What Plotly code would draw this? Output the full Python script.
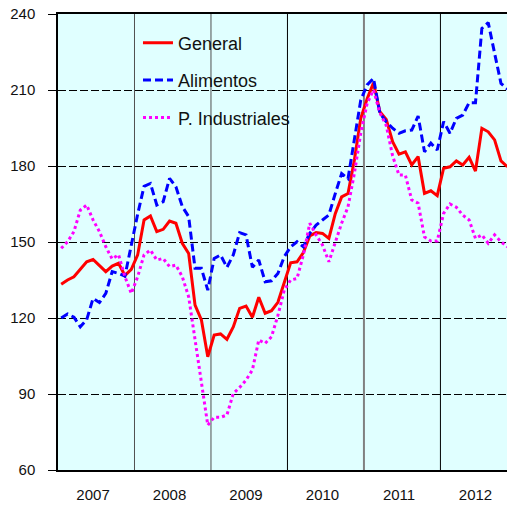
import plotly.graph_objects as go

years = ["2007", "2008", "2009", "2010", "2011", "2012"]

general = [
    133.3, 135.0, 136.3, 139.3, 142.2, 143.1, 140.5, 138.3, 140.5, 141.6, 136.8, 139.2,
    144.9, 158.7, 160.3, 154.1, 155.0, 158.3, 157.4, 149.5, 145.5, 125.1, 119.2, 104.7,
    113.3, 113.7, 111.6, 116.5, 123.8, 124.7, 120.3, 128.2, 121.9, 122.9, 126.2, 134.5,
    141.8, 142.2, 145.8, 152.4, 153.7, 153.4, 151.4, 161.2, 167.8, 169.1, 182.4, 198.8,
    206.5, 212.8, 201.4, 198.4, 189.6, 184.7, 185.6, 180.4, 183.7, 169.2, 170.2, 168.3,
    179.1, 179.7, 182.0, 180.4, 183.4, 178.0, 194.9, 193.5, 190.3, 182.0, 179.7,
]

alimentos = [
    120.0, 121.6, 120.3, 116.5, 119.3, 127.7, 126.1, 129.7, 138.3, 137.6, 136.5, 149.0,
    161.0, 172.0, 173.1, 164.6, 165.9, 175.1, 171.8, 164.0, 160.0, 139.6, 139.6, 131.0,
    143.5, 144.9, 140.0, 144.9, 153.7, 152.8, 140.0, 142.9, 134.3, 134.7, 137.6, 144.2,
    148.1, 150.1, 148.1, 153.4, 156.7, 158.7, 160.7, 169.1, 177.0, 175.0, 190.3, 206.0,
    212.0, 214.6, 200.8, 197.5, 194.9, 192.9, 193.9, 194.2, 199.7, 185.6, 189.0, 186.3,
    197.5, 192.9, 198.8, 200.1, 205.0, 205.0, 234.3, 236.6, 224.5, 212.6, 210.3,
]

industriales = [
    147.5, 150.1, 154.1, 162.6, 164.6, 158.7, 154.1, 148.1, 143.3, 145.0, 136.3, 129.7,
    136.3, 144.9, 146.8, 142.9, 143.5, 140.3, 140.9, 136.3, 128.4, 111.3, 95.5, 77.7,
    80.8, 80.8, 81.7, 90.2, 92.6, 95.5, 99.5, 111.3, 110.0, 112.6, 121.0, 131.0,
    135.0, 135.6, 144.9, 157.4, 152.8, 148.8, 142.2, 150.1, 157.4, 163.9, 177.1, 192.9,
    204.7, 210.0, 201.0, 196.0, 184.0, 176.4, 176.4, 166.6, 165.3, 152.0, 150.4, 150.4,
    161.3, 165.0, 163.7, 160.6, 158.7, 151.4, 152.8, 149.5, 152.8, 150.1, 148.1,
]

y_ticks = [60, 90, 120, 150, 180, 210, 240]

n = len(general)
x = [i + 0.5 for i in range(n)]

FONT = "Liberation Sans, Arial, sans-serif"

fig = go.Figure()
fig.add_trace(go.Scatter(x=x, y=general, name="General", mode="lines",
                         line=dict(color="#FF0000", width=3), legendgroup="a"))
fig.add_trace(go.Scatter(x=x, y=alimentos, name="Alimentos", mode="lines",
                         line=dict(color="#0000FF", width=3, dash="8px,4px"), legendgroup="b"))
fig.add_trace(go.Scatter(x=x, y=industriales, name="P. Industriales", mode="lines",
                         line=dict(color="#FF00FF", width=3, dash="dot"), legendgroup="c"))

# year separators
sep_styles = [("#505050", 1), ("#505050", 1), ("#000000", 1), ("#808080", 2), ("#000000", 1)]
for k, (col, w) in enumerate(sep_styles, start=1):
    fig.add_shape(type="line", xref="x", yref="paper", x0=12 * k, x1=12 * k, y0=0, y1=1,
                  line=dict(color=col, width=w), layer="below")

fig.update_layout(
    width=515, height=506,
    margin=dict(l=50, r=8, t=6, b=44, autoexpand=False),
    paper_bgcolor="white", plot_bgcolor="#E0FFFF",
    font=dict(family=FONT, size=15, color="#111111"),
    showlegend=True,
    legend=dict(x=0.175, y=0.977, xanchor="left", yanchor="top",
                bgcolor="rgba(0,0,0,0)", font=dict(size=18, family=FONT, color="#111111"),
                traceorder="grouped", tracegroupgap=11),
    xaxis=dict(range=[0, 71.7], tickmode="array", automargin=False,
               tickvals=[12 * i + 5.5 for i in range(len(years))], ticktext=years,
               ticks="", showgrid=False, zeroline=False,
               showline=True, linecolor="black", linewidth=1.5, mirror=True,
               ticklabelstandoff=10, tickfont=dict(size=15), ticklabeloverflow="allow"),
    yaxis=dict(range=[60, 240], tickmode="array", tickvals=y_ticks, automargin=False,
               ticks="outside", ticklen=8, tickcolor="black", tickwidth=1,
               showgrid=True, gridcolor="black", gridwidth=1, griddash="8px,3px",
               zeroline=False, showline=True, linecolor="black", linewidth=1.5,
               ticklabelstandoff=10, tickfont=dict(size=15), ticklabeloverflow="allow"),
)

fig.write_html("out.html")
